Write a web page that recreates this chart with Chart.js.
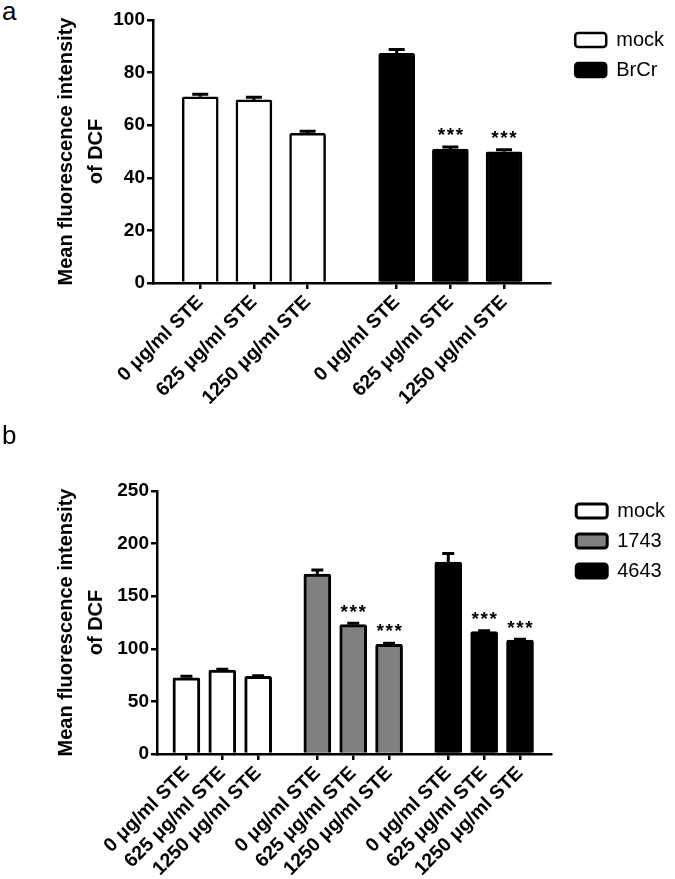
<!DOCTYPE html>
<html>
<head>
<meta charset="utf-8">
<script src="https://cdn.jsdelivr.net/npm/chart.js@4.4.1/dist/chart.umd.min.js"></script>
<style>
  body { margin: 0; background: #fff; width: 675px; height: 879px; position: relative; overflow: hidden; font-family: "Liberation Sans", Arial, sans-serif; }
  .panel { position: absolute; left: 0; }
  .tag { position: absolute; left: 2px; font-size: 26px; line-height: 1; color: #000; }
</style>
</head>
<body>
<div class="tag" style="top:-2px">a</div>
<div class="panel" style="top:0"><canvas id="chartA" width="675" height="430"></canvas></div>
<div class="tag" style="top:422px">b</div>
<div class="panel" style="top:430px"><canvas id="chartB" width="675" height="449"></canvas></div>

<script>
// Data
const doseLabels = ['0 μg/ml STE', '625 μg/ml STE', '1250 μg/ml STE'];
const yTitle = ['Mean fluorescence intensity', 'of DCF'];

// panel a
const seriesA = ['mock', 'BrCr'];
const meanA_mock = [70.8, 69.6, 56.9];
const semA_mock = [1.0, 1.0, 0.8];
const starA_mock = ['', '', ''];
const meanA_brcr = [87.3, 50.9, 49.9];
const semA_brcr = [1.5, 0.8, 0.8];
const starA_brcr = ['', '***', '***'];
const yMaxA = 100, yStepA = 20;

// panel b
const seriesB = ['mock', '1743', '4643'];
const meanB_mock = [72.5, 79.8, 73.8];
const semB_mock = [1.5, 0.8, 0.6];
const starB_mock = ['', '', ''];
const meanB_1743 = [171.1, 123.0, 104.3];
const semB_1743 = [3.8, 1.2, 1.0];
const starB_1743 = ['', '***', '***'];
const meanB_4643 = [182.5, 116.3, 108.4];
const semB_4643 = [8.0, 0.8, 0.6];
const starB_4643 = ['', '***', '***'];
const yMaxB = 250, yStepB = 50;

const FONT = '"Liberation Sans", Arial, sans-serif';

// draws SEM bars and significance stars on top of each bar
const errorBarPlugin = {
    id: 'errorBars',
    afterDatasetsDraw(chart, args, opts) {
        const ctx = chart.ctx;
        const yScale = chart.scales.y;
        chart.data.datasets.forEach(function(ds, i) {
            const meta = chart.getDatasetMeta(i);
            meta.data.forEach(function(bar, j) {
                const top = yScale.getPixelForValue(ds.data[j].y + ds.errors[j]);
                ctx.save();
                ctx.strokeStyle = '#000';
                ctx.lineWidth = opts.lineWidth;
                ctx.beginPath();
                ctx.moveTo(bar.x, bar.y);
                ctx.lineTo(bar.x, top);
                ctx.moveTo(bar.x - opts.capWidth / 2, top);
                ctx.lineTo(bar.x + opts.capWidth / 2, top);
                ctx.stroke();
                const star = ds.stars[j];
                if (star) {
                    ctx.fillStyle = '#000';
                    ctx.font = 'bold ' + opts.starSize + 'px ' + FONT;
                    ctx.textAlign = 'center';
                    ctx.textBaseline = 'middle';
                    const n = star.length;
                    for (let k = 0; k < n; k++) {
                        ctx.fillText(star[k], bar.x + (k - (n - 1) / 2) * opts.starGap, top + opts.starOffset);
                    }
                }
                ctx.restore();
            });
        });
    }
};

// nudge the legend away from the plot, like the original
const legendShiftPlugin = {
    id: 'legendShift',
    afterLayout(chart, args, opts) {
        if (chart.legend) {
            chart.legend.left += opts.dx;
            chart.legend.right += opts.dx;
        }
    }
};

function buildPanel(canvasId, p) {
    // bar positions: groups of 3 with a wider gap between groups
    const positions = [];
    const labels = [];
    const datasets = p.series.map(function(name, g) {
        const pts = p.means[g].map(function(v, i) {
            const x = g * (p.means[g].length + p.groupGap) + i;
            positions.push(x);
            labels.push(doseLabels[i]);
            return { x: x, y: v };
        });
        return {
            label: name,
            data: pts,
            errors: p.sems[g],
            stars: p.stars[g],
            backgroundColor: p.colors[g],
            borderColor: '#000',
            borderWidth: p.barBorder,
            borderRadius: 2,
            barThickness: p.barWidth,
            grouped: false
        };
    });

    return new Chart(document.getElementById(canvasId), {
        type: 'bar',
        data: { datasets: datasets },
        plugins: [errorBarPlugin, legendShiftPlugin],
        options: {
            responsive: false,
            animation: false,
            layout: { padding: { top: p.top, left: 0, right: p.padRight, bottom: 0 } },
            scales: {
                x: {
                    type: 'linear',
                    min: p.xMin,
                    max: p.xMax,
                    offset: false,
                    border: { color: '#000', width: 2.5 },
                    grid: { drawOnChartArea: false, offset: false, tickLength: 6, color: '#000', lineWidth: 2.5 },
                    afterBuildTicks: function(s) { s.ticks = positions.map(function(v) { return { value: v }; }); },
                    ticks: {
                        autoSkip: false,
                        minRotation: 45,
                        maxRotation: 45,
                        padding: 2,
                        color: '#000',
                        font: { family: FONT, size: 19.5, weight: 'bold' },
                        callback: function(v, i) { return labels[i]; }
                    },
                    afterFit: function(s) { s.height = p.xHeight; }
                },
                y: {
                    min: 0,
                    max: p.yMax,
                    border: { color: '#000', width: 2.5 },
                    grid: { drawOnChartArea: false, tickLength: 6, color: '#000', lineWidth: 2.5 },
                    ticks: {
                        stepSize: p.yStep,
                        padding: 2,
                        color: '#000',
                        font: { family: FONT, size: 19, weight: 'bold' }
                    },
                    title: {
                        display: true,
                        text: yTitle,
                        color: '#000',
                        font: { family: FONT, size: 20, weight: 'bold', lineHeight: 1.5 },
                        padding: { top: 51, bottom: 0 }
                    },
                    afterFit: function(s) { s.width = p.yWidth; }
                }
            },
            plugins: {
                legend: {
                    position: 'right',
                    align: 'start',
                    labels: {
                        boxWidth: 31,
                        boxHeight: 14,
                        padding: 10,
                        color: '#000',
                        useBorderRadius: true,
                        borderRadius: 3,
                        font: { family: FONT, size: 20 }
                    }
                },
                tooltip: { enabled: false },
                errorBars: { lineWidth: 3, capWidth: p.capWidth, starSize: 19, starGap: 9, starOffset: -11 },
                legendShift: { dx: 15 }
            }
        }
    });
}

buildPanel('chartA', {
    series: seriesA,
    means: [meanA_mock, meanA_brcr],
    sems: [semA_mock, semA_brcr],
    stars: [starA_mock, starA_brcr],
    colors: ['#ffffff', '#000000'],
    groupGap: 0.66,
    xMin: -0.88, xMax: 6.52,
    yMax: yMaxA, yStep: yStepA,
    top: 20, padRight: 16, xHeight: 147, yWidth: 153,
    barWidth: 36, barBorder: 2.5, capWidth: 16
});

buildPanel('chartB', {
    series: seriesB,
    means: [meanB_mock, meanB_1743, meanB_4643],
    sems: [semB_mock, semB_1743, semB_4643],
    stars: [starB_mock, starB_1743, starB_4643],
    colors: ['#ffffff', '#808080', '#000000'],
    groupGap: 0.65,
    xMin: -0.82, xMax: 10.17,
    yMax: yMaxB, yStep: yStepB,
    top: 61, padRight: 15, xHeight: 125, yWidth: 157,
    barWidth: 27, barBorder: 3, capWidth: 12
});
</script>
</body>
</html>
